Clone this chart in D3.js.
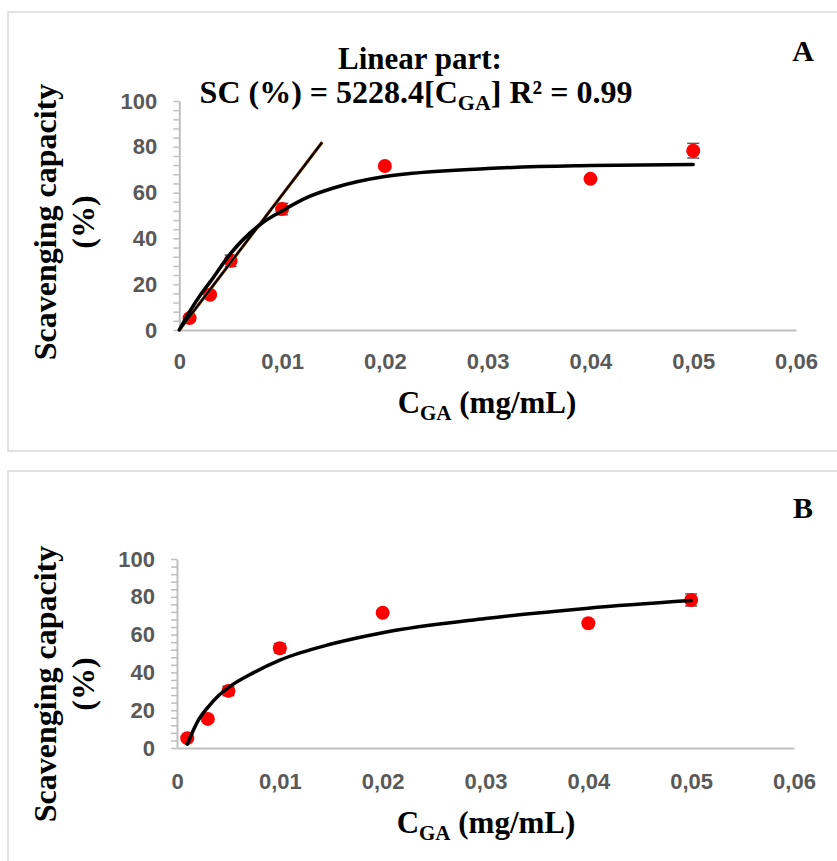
<!DOCTYPE html>
<html>
<head>
<meta charset="utf-8">
<script src="https://cdn.jsdelivr.net/npm/d3@7"></script>
<style>
	html, body { margin: 0; padding: 0; background: #fff; }
	svg { display: block; }
	.tick text { font-family: "Liberation Sans", Arial, sans-serif; font-weight: bold; fill: #595959; }
	.title { font-family: "Liberation Serif", "Times New Roman", serif; font-weight: bold; fill: #000; }
</style>
</head>
<body>
<svg id="chart"></svg>
<script>
// measured data (both panels show the same set of points)
const conc = [0.001, 0.003, 0.005, 0.01, 0.02, 0.04, 0.05];
const sc = [5.2, 15.4, 30.2, 52.8, 71.6, 66, 78.3];
const sc_err = [1, 1, 2.5, 2.5, 1, 1, 3.2];

// trend lines
const fitA_x = [0, 0.001, 0.002, 0.003, 0.005, 0.008, 0.01, 0.0125, 0.015, 0.02, 0.03, 0.04, 0.05];
const fitA_y = [0, 8, 15, 21, 33.5, 46.5, 52, 58, 62, 67, 70.5, 71.8, 72.3];
const linA_x = [0, 0.0139];
const linA_y = [0, 82];
const fitB_x = [0.001, 0.002, 0.003, 0.004, 0.005, 0.0075, 0.01, 0.015, 0.02, 0.03, 0.04, 0.05];
const fitB_y = [2, 14, 21.5, 27.5, 32, 40, 46.5, 55, 61, 68.5, 74, 78];

const x_ticks = [0, 0.01, 0.02, 0.03, 0.04, 0.05, 0.06];
const x_tick_labels = ["0", "0,01", "0,02", "0,03", "0,04", "0,05", "0,06"];
const y_ticks = d3.range(0, 101, 4); // minor ticks every 4 %
const y_label_every = 20;

const params = {
		width: 837,
		height: 861,
		dot_r: 7,
		dot_color: "#ff0000",
		axis_color: "#bfbfbf",
		err_color: "#595959",
		frame_color: "#d9d9d9"
	},
	svg = d3.select("#chart")
		.attr("width", params.width)
		.attr("height", params.height);

const zip = (xs, ys) => xs.map((v, i) => [v, ys[i]]);

// one panel = frame, axes, error bars, dots, trend lines, labels
function draw_panel(p) {
	const g = svg.append("g");

	g.append("rect")
		.attr("x", p.frame[0]).attr("y", p.frame[1])
		.attr("width", p.frame[2]).attr("height", p.frame[3])
		.attr("fill", "none")
		.attr("stroke", params.frame_color)
		.attr("stroke-width", 1.5);

	const x = d3.scaleLinear().domain([0, 0.06]).range(p.xr),
		y = d3.scaleLinear().domain([0, 100]).range(p.yr);

	// y axis with small ticks, labels every 20
	const ya = g.append("g")
		.attr("transform", `translate(${p.xr[0]},0)`)
		.call(d3.axisLeft(y)
			.tickValues(y_ticks)
			.tickSizeInner(6).tickSizeOuter(0)
			.tickPadding(16)
			.tickFormat(d => d % y_label_every === 0 ? d : ""));
	ya.selectAll("line").attr("stroke", params.axis_color).attr("stroke-width", 1.5);
	ya.select(".domain").attr("stroke", params.axis_color).attr("stroke-width", 2);
	ya.selectAll("text").style("font-size", "22px");

	// x axis, no tick marks
	const xa = g.append("g")
		.attr("transform", `translate(0,${p.yr[0]})`)
		.call(d3.axisBottom(x)
			.tickValues(x_ticks)
			.tickSize(0)
			.tickPadding(p.xpad)
			.tickFormat((d, i) => x_tick_labels[i]));
	xa.select(".domain").attr("stroke", params.axis_color).attr("stroke-width", 2);
	xa.selectAll("text").style("font-size", "22px");

	// error bars under the markers
	const eb = g.append("g").attr("stroke", params.err_color).attr("stroke-width", 1.5);
	conc.forEach((c, i) => {
		const cx = x(c), y0 = y(sc[i] - sc_err[i]), y1 = y(sc[i] + sc_err[i]);
		eb.append("line").attr("x1", cx).attr("x2", cx).attr("y1", y0).attr("y2", y1);
		eb.append("line").attr("x1", cx - 6).attr("x2", cx + 6).attr("y1", y0).attr("y2", y0);
		eb.append("line").attr("x1", cx - 6).attr("x2", cx + 6).attr("y1", y1).attr("y2", y1);
	});

	g.append("g").selectAll("circle")
		.data(zip(conc, sc))
		.join("circle")
		.attr("cx", d => x(d[0]))
		.attr("cy", d => y(d[1]))
		.attr("r", params.dot_r)
		.attr("fill", params.dot_color);

	const line = d3.line().x(d => x(d[0])).y(d => y(d[1]));

	if (p.linear) {
		// linear part: orange trendline with black line on top
		g.append("path").datum(p.linear)
			.attr("d", line)
			.attr("fill", "none").attr("stroke", "#c55a11").attr("stroke-width", 3.2);
		g.append("path").datum(p.linear)
			.attr("d", line)
			.attr("fill", "none").attr("stroke", "#000").attr("stroke-width", 2.2);
	}

	g.append("path").datum(p.fit)
		.attr("d", line.curve(d3.curveMonotoneX))
		.attr("fill", "none")
		.attr("stroke", "#000")
		.attr("stroke-width", 3.5)
		.attr("stroke-linecap", "round");

	// axis titles
	const xt = g.append("text").attr("class", "title")
		.attr("x", p.xtitle[0]).attr("y", p.xtitle[1])
		.attr("text-anchor", "middle")
		.style("font-size", "31px");
	xt.append("tspan").text("C");
	xt.append("tspan").text("GA").attr("dy", 7).style("font-size", "21px");
	xt.append("tspan").text(" (mg/mL)").attr("dy", -7);

	g.append("text").attr("class", "title")
		.attr("transform", `translate(45,${p.ymid}) rotate(-90)`)
		.attr("text-anchor", "middle")
		.attr("dominant-baseline", "central")
		.style("font-size", "32px")
		.text("Scavenging capacity");
	g.append("text").attr("class", "title")
		.attr("transform", `translate(83,${p.ymid}) rotate(-90)`)
		.attr("text-anchor", "middle")
		.attr("dominant-baseline", "central")
		.style("font-size", "32px")
		.text("(%)");

	g.append("text").attr("class", "title")
		.attr("x", 803).attr("y", p.letter_y)
		.attr("text-anchor", "middle")
		.style("font-size", "30px")
		.text(p.letter);

	return g;
}

const gA = draw_panel({
	frame: [8, 12, 840, 439],
	xr: [179.3, 796], yr: [330, 101],
	xpad: 23,
	fit: zip(fitA_x, fitA_y),
	linear: zip(linA_x, linA_y),
	xtitle: [487, 413],
	ymid: 222,
	letter: "A", letter_y: 61
});

draw_panel({
	frame: [8, 471, 840, 400],
	xr: [177, 794], yr: [748, 559],
	xpad: 25,
	fit: zip(fitB_x, fitB_y),
	xtitle: [486, 833],
	ymid: 684,
	letter: "B", letter_y: 518
});

// equation of the linear part
gA.append("text").attr("class", "title")
	.attr("x", 420).attr("y", 69)
	.attr("text-anchor", "middle")
	.style("font-size", "31px")
	.text("Linear part:");
const eq = gA.append("text").attr("class", "title")
	.attr("x", 416).attr("y", 103)
	.attr("text-anchor", "middle")
	.style("font-size", "32px");
eq.append("tspan").text("SC (%) = 5228.4[C");
eq.append("tspan").text("GA").attr("dy", 7).style("font-size", "22px");
eq.append("tspan").text("] R² = 0.99").attr("dy", -7);
</script>
</body>
</html>
